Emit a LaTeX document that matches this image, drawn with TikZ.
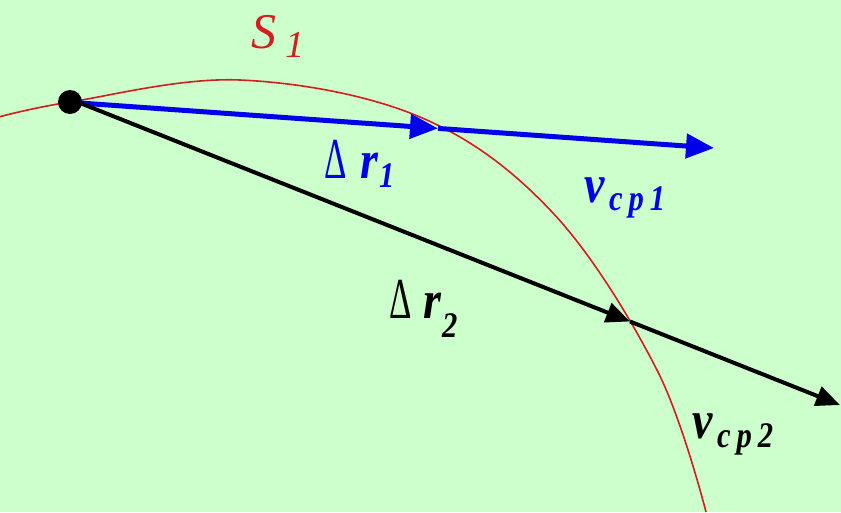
\documentclass[tikz,border=0pt]{standalone}
\usepackage{fontspec}
\setmainfont{Liberation Serif}
\newfontfamily\condfont[FakeStretch=0.85]{Liberation Serif}
\usetikzlibrary{arrows.meta}
\definecolor{bg}{RGB}{204,255,204}
\definecolor{cred}{RGB}{210,30,30}
\definecolor{cblue}{RGB}{0,0,235}
\tikzset{
  lbl/.style={anchor=base west,inner sep=0pt,outer sep=0pt},
  big/.style={font=\condfont\fontsize{54}{54}\selectfont\bfseries\itshape},
  sub/.style={font=\condfont\fontsize{36}{36}\selectfont\bfseries\itshape},
  delta/.style={font=\fontsize{58}{58}\selectfont},
  bluevec/.style={cblue,line width=5pt},
  blackvec/.style={black,line width=4pt},
  bluetip/.style={-{Triangle[length=28pt,width=24pt]}},
  blacktip/.style={-{Triangle[length=24pt,width=20pt]}},
}
\newcommand{\thinDelta}{\scalebox{0.6}[1]{Δ}}
\begin{document}
\begin{tikzpicture}[x=1pt,y=-1pt]
\fill[bg] (0,0) rectangle (841,512);
\useasboundingbox (0,0) rectangle (841,512);
% curve S1
\draw[cred,line width=1.6pt] plot[smooth,tension=0.6] coordinates {(-5,118) (70,102) (240,80) (420,117) (553,213) (657,370) (706,512)};
% start point
\node[circle,fill=black,minimum size=24pt,inner sep=0pt] (d) at (70,102) {};
\coordinate (b0) at (80,103);
\coordinate (bm) at (438,128.4);
\coordinate (be) at (714,148);
\coordinate (k0) at (80,103);
\coordinate (km) at (630,321.5);
\coordinate (ke) at (840,405);
\draw[bluevec,bluetip] (b0) -- (bm);
\draw[bluevec,bluetip] (bm) -- (be);
\draw[blackvec,blacktip] (k0) -- (km);
\draw[blackvec,blacktip] (km) -- (ke);
% labels
\node[lbl,cred,font=\fontsize{50}{50}\selectfont\itshape] (s) at (251,48) {S};
\node[lbl,cred,font=\fontsize{38}{38}\selectfont\itshape] (s1) at (285,57) {1};
\node[lbl,cblue,delta] (dl1) at (324,178) {\thinDelta};
\node[lbl,cblue,big] (r1) at (360,178) {r};
\node[lbl,cblue,sub] (r1s) at (379,187) {1};
\node[lbl,cblue,big] (v1) at (584,202) {v};
\node[lbl,cblue,sub] (v1s) at (609,210) {c\,p\,1};
\node[lbl,black,delta] (dl2) at (389,318) {\thinDelta};
\node[lbl,black,big] (r2) at (423,318) {r};
\node[lbl,black,sub] (r2s) at (442,337) {2};
\node[lbl,black,big] (v2) at (692,438) {v};
\node[lbl,black,sub] (v2s) at (717,447) {c\,p\,2};
\end{tikzpicture}
\end{document}
